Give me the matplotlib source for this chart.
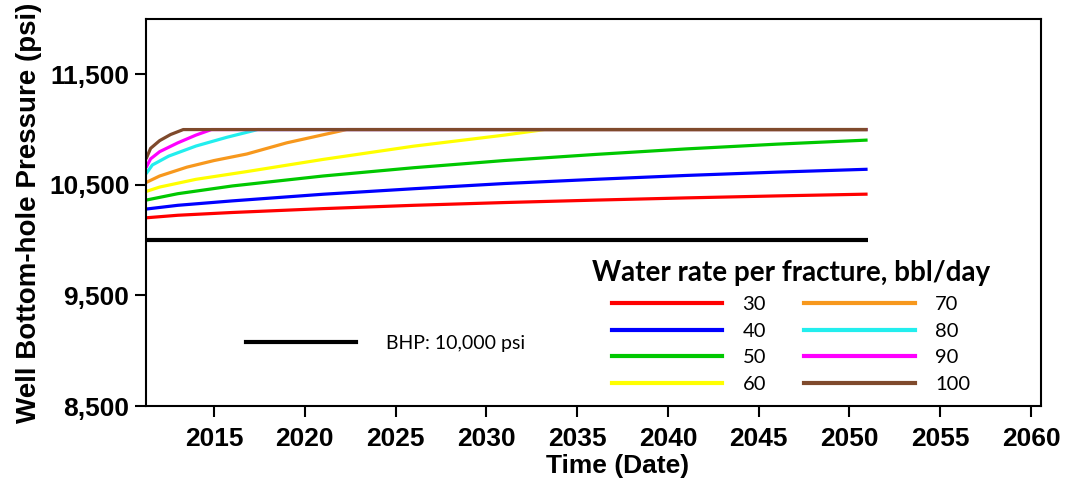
import matplotlib
matplotlib.use("Agg")
import matplotlib.pyplot as plt
from matplotlib.lines import Line2D
from matplotlib.ticker import FuncFormatter

# --- data -------------------------------------------------------------
rates = ["30", "40", "50", "60", "70", "80", "90", "100"]
colors = ["#ff0000", "#0000ff", "#00c800", "#ffff00",
          "#f7981d", "#22eeee", "#ff00ff", "#7f4a2c"]

yr_30 = [2011.25, 2013, 2016, 2021, 2026, 2031, 2036, 2041, 2046, 2051]
p_30 = [10202, 10225, 10250, 10285, 10315, 10340, 10362, 10382, 10400, 10416]

yr_40 = [2011.25, 2013, 2016, 2021, 2026, 2031, 2036, 2041, 2046, 2051]
p_40 = [10281, 10315, 10355, 10415, 10465, 10512, 10550, 10585, 10615, 10641]

yr_50 = [2011.25, 2013, 2016, 2021, 2026, 2031, 2036, 2041, 2046, 2051]
p_50 = [10362, 10420, 10490, 10580, 10655, 10720, 10775, 10825, 10868, 10905]

yr_60 = [2011.25, 2012, 2014, 2016.8, 2021, 2026, 2031, 2033.2, 2051]
p_60 = [10440, 10480, 10550, 10620, 10730, 10850, 10950, 11000, 11000]

yr_70 = [2011.25, 2012, 2013.5, 2015, 2016.8, 2019, 2022.3, 2051]
p_70 = [10521, 10580, 10660, 10720, 10779, 10880, 11000, 11000]

yr_80 = [2011.25, 2011.6, 2012.5, 2014, 2015.7, 2017.4, 2051]
p_80 = [10600, 10680, 10760, 10851, 10930, 11000, 11000]

yr_90 = [2011.25, 2011.5, 2012, 2013, 2014, 2014.85, 2051]
p_90 = [10656, 10735, 10800, 10880, 10950, 11000, 11000]

yr_100 = [2011.25, 2011.5, 2012, 2012.6, 2013.3, 2051]
p_100 = [10734, 10830, 10900, 10955, 11000, 11000]

years = [yr_30, yr_40, yr_50, yr_60, yr_70, yr_80, yr_90, yr_100]
pressures = [p_30, p_40, p_50, p_60, p_70, p_80, p_90, p_100]

bhp_years = [2011.25, 2051]
bhp_psi = [10000, 10000]

x_ticks = [2015, 2020, 2025, 2030, 2035, 2040, 2045, 2050, 2055, 2060]
y_ticks = [8500, 9500, 10500, 11500]

# --- figure -----------------------------------------------------------
fig = plt.figure(figsize=(10.66, 4.83), dpi=100)
ax = fig.add_axes([0.137, 0.1594, 0.8395, 0.8013])

ax.plot(bhp_years, bhp_psi, color="black", lw=3.0, solid_capstyle="butt")
for yr, p, c in zip(years, pressures, colors):
    ax.plot(yr, p, color=c, lw=2.3, solid_capstyle="butt")

ax.set_xlim(2011.25, 2060.55)
ax.set_ylim(8500, 12000)
ax.set_xticks(x_ticks)
ax.set_yticks(y_ticks)
ax.yaxis.set_major_formatter(FuncFormatter(lambda v, _: f"{int(v):,}"))

for s in ax.spines.values():
    s.set_linewidth(1.5)
ax.tick_params(axis="both", direction="out", length=8, width=1.5)
ax.tick_params(axis="y", pad=4)
ax.tick_params(axis="x", pad=7)
for lab in ax.get_xticklabels() + ax.get_yticklabels():
    lab.set_fontfamily("Liberation Sans")
    lab.set_fontweight("bold")
    lab.set_fontsize(19)

ax.set_ylabel("Well Bottom-hole Pressure (psi)", family="Liberation Sans",
              fontweight="bold", fontsize=20, labelpad=5)
ax.set_xlabel("Time (Date)", family="Liberation Sans",
              fontweight="bold", fontsize=19)
ax.xaxis.set_label_coords(0.527, -0.125)

# --- legends ----------------------------------------------------------
rate_handles = [Line2D([], [], color=c, lw=3.0) for c in colors]
leg = ax.legend(rate_handles, rates, ncol=2, frameon=False,
                loc="center", bbox_to_anchor=(0.7207, 0.205),
                title="Water rate per fracture, bbl/day",
                prop={"family": "Lato", "size": 14.5},
                title_fontproperties={"family": "Lato", "size": 20,
                                      "weight": "bold"},
                handlelength=5.5, handletextpad=1.0, columnspacing=1.9,
                labelspacing=0.48)
ax.add_artist(leg)

bhp_handle = [Line2D([], [], color="black", lw=3.0)]
ax.legend(bhp_handle, ["BHP: 10,000 psi"], frameon=False, loc="center",
          bbox_to_anchor=(0.2676, 0.1628),
          prop={"family": "Lato", "size": 14},
          handlelength=5.67, handletextpad=1.55)

fig.savefig("out.png", dpi=100)
